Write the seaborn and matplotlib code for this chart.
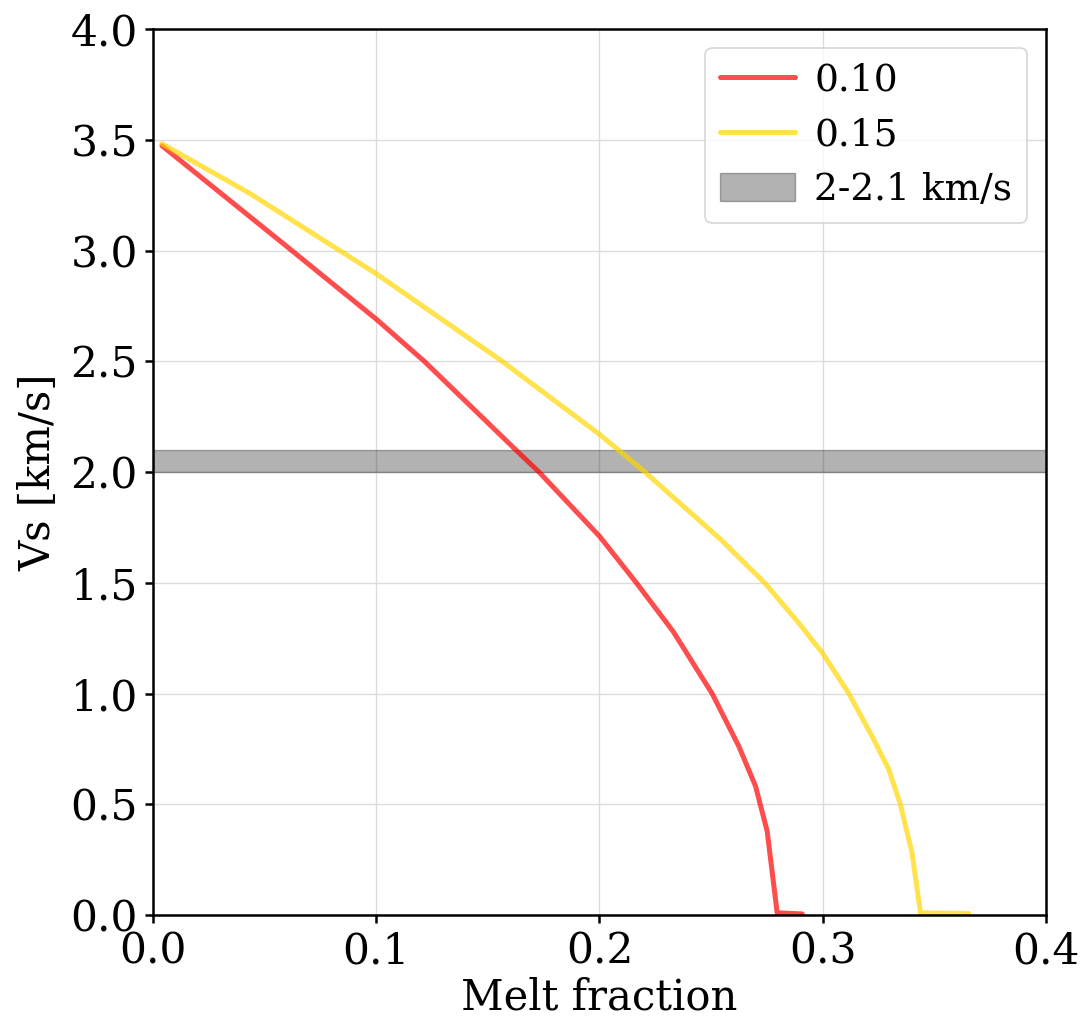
import numpy as np
import pandas as pd
import matplotlib
matplotlib.use("Agg")
import matplotlib.pyplot as plt
import seaborn as sns

# Data
red_x = [0.004, 0.058, 0.100, 0.1215, 0.1625, 0.1729, 0.200, 0.2165, 0.233, 0.2505,
         0.2624, 0.2699, 0.2751, 0.2796, 0.2908]
red_y = [3.473, 3.034, 2.690, 2.500, 2.100, 2.000, 1.710, 1.500, 1.280, 0.999,
         0.762, 0.582, 0.379, 0.010, 0.005]
yel_x = [0.004, 0.043, 0.100, 0.1564, 0.200, 0.2191, 0.2549, 0.2744, 0.2893,
         0.2998, 0.3117, 0.3221, 0.3296, 0.3348, 0.3400, 0.3438, 0.3654]
yel_y = [3.482, 3.260, 2.895, 2.500, 2.170, 2.011, 1.690, 1.495, 1.318,
         1.184, 1.000, 0.807, 0.657, 0.499, 0.281, 0.010, 0.007]
series_labels = ["0.10", "0.15"]
band_low, band_high = 2.0, 2.1
band_label = "2-2.1 km/s"
x_ticks = [0.0, 0.1, 0.2, 0.3, 0.4]
y_ticks = [0.0, 0.5, 1.0, 1.5, 2.0, 2.5, 3.0, 3.5, 4.0]

df = pd.concat([
    pd.DataFrame({"x": red_x, "y": red_y, "s": series_labels[0]}),
    pd.DataFrame({"x": yel_x, "y": yel_y, "s": series_labels[1]}),
])

sns.set_style("whitegrid")
plt.rcParams["font.family"] = ["DejaVu Serif"]
plt.rcParams["mathtext.fontset"] = "dejavuserif"
for k in ["text.color", "axes.labelcolor", "xtick.color", "ytick.color"]:
    plt.rcParams[k] = "black"

fig = plt.figure(figsize=(10.83, 10.25), dpi=100)
ax = fig.add_axes([0.1413, 0.1073, 0.8245, 0.8644])

ax.axhspan(band_low, band_high, color="k", alpha=0.3, label=band_label, zorder=1)
sns.lineplot(data=df, x="x", y="y", hue="s", palette={"0.10": "red", "0.15": "gold"},
             estimator=None, sort=False, linewidth=3.6, alpha=0.7, ax=ax, zorder=2)

ax.set_xlim(0, 0.4)
ax.set_ylim(0, 4.0)
ax.set_xticks(x_ticks)
ax.set_yticks(y_ticks)
ax.set_xlabel("Melt fraction", fontsize=30, labelpad=3)
ax.set_ylabel("Vs [km/s]", fontsize=30, labelpad=8)
ax.tick_params(axis="both", labelsize=30.5, direction="out", length=6, width=1.8,
               colors="black", left=True, bottom=True, pad=5)
ax.grid(True, color="#dcdcdc", linewidth=1.0)
for sp in ax.spines.values():
    sp.set_color("black")
    sp.set_linewidth(1.8)

handles, labels = ax.get_legend_handles_labels()
order = [labels.index(series_labels[0]), labels.index(series_labels[1]), labels.index(band_label)]
leg = ax.legend([handles[i] for i in order], [labels[i] for i in order],
                loc="upper right", fontsize=27, frameon=True, handlelength=2.0,
                handleheight=0.75, borderpad=0.4, labelspacing=0.5,
                handletextpad=0.5, borderaxespad=0.5)
leg.get_frame().set_edgecolor("#cccccc")
leg.get_frame().set_linewidth(1.2)
for lh in leg.get_lines():
    lh.set_linewidth(3.6)

fig.savefig("out.png", dpi=100)
